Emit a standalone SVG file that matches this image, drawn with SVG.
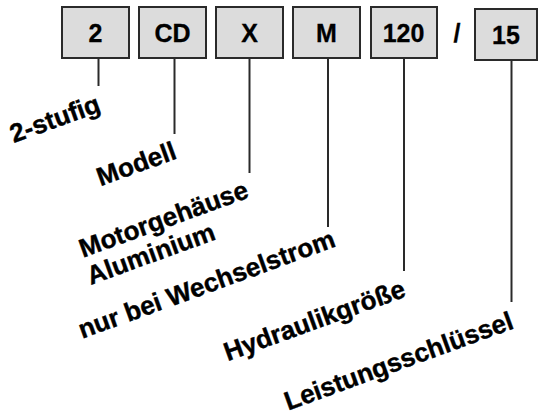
<svg xmlns="http://www.w3.org/2000/svg" width="539" height="415" viewBox="0 0 539 415">
<style>
.box{fill:#dcdcdc;stroke:#2a2a2a;stroke-width:2}
.bt{font-family:"Liberation Sans",Arial,sans-serif;font-weight:bold;font-size:25px;fill:#000;text-anchor:middle;stroke:#000;stroke-width:0.3}
.lb{font-family:"Liberation Sans",Arial,sans-serif;font-weight:bold;font-size:26px;fill:#000;text-anchor:end;stroke:#000;stroke-width:0.4}
.ln{stroke:#2a2a2a;stroke-width:2;fill:none}
</style>
<rect width="539" height="415" fill="#fff"/>
<g id="connectors">
<line class="ln" x1="98.5" y1="58" x2="98.5" y2="86"/>
<line class="ln" x1="174.5" y1="58" x2="174.5" y2="134"/>
<line class="ln" x1="249.5" y1="58" x2="249.5" y2="173"/>
<line class="ln" x1="328" y1="58" x2="328" y2="227"/>
<line class="ln" x1="404" y1="58" x2="404" y2="271"/>
<line class="ln" x1="511.5" y1="61" x2="511.5" y2="302"/>
</g>
<g id="n-2"><rect class="box" x="62" y="7" width="67" height="51"/><text class="bt" x="95.5" y="42">2</text></g>
<g id="n-cd"><rect class="box" x="139" y="7" width="67" height="51"/><text class="bt" x="172.5" y="42">CD</text></g>
<g id="n-x"><rect class="box" x="216" y="7" width="67" height="51"/><text class="bt" x="249.5" y="42">X</text></g>
<g id="n-m"><rect class="box" x="293" y="7" width="67" height="51"/><text class="bt" x="326.5" y="42">M</text></g>
<g id="n-120"><rect class="box" x="371" y="7" width="66" height="51"/><text class="bt" x="403.5" y="42">120</text></g>
<g id="n-slash"><text class="bt" x="457" y="42">/</text></g>
<g id="n-15"><rect class="box" x="475" y="9" width="62" height="51"/><text class="bt" x="506" y="44">15</text></g>
<g id="l-stufig"><text class="lb" transform="translate(102,111) rotate(-20)">2-stufig</text></g>
<g id="l-modell"><text class="lb" transform="translate(178,158) rotate(-20)">Modell</text></g>
<g id="l-motor"><text class="lb" transform="translate(250,197) rotate(-20)">Motorgehäuse</text></g>
<g id="l-alu"><text class="lb" transform="translate(217,239) rotate(-20)">Aluminium</text></g>
<g id="l-wechsel"><text class="lb" transform="translate(337,246) rotate(-20)">nur bei Wechselstrom</text></g>
<g id="l-hydraulik"><text class="lb" transform="translate(407,296) rotate(-20)">Hydraulikgröße</text></g>
<g id="l-leistung"><text class="lb" transform="translate(515,328) rotate(-20)">Leistungsschlüssel</text></g>
</svg>
